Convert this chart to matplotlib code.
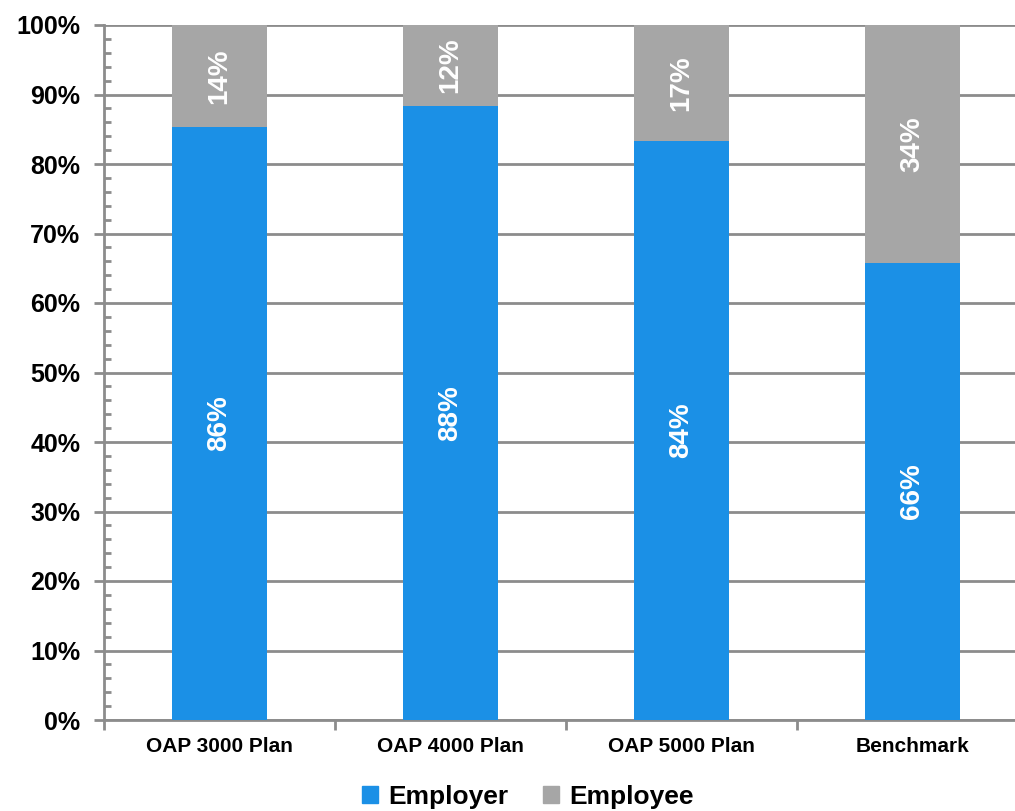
import numpy as np
import matplotlib
matplotlib.use("Agg")
import matplotlib.pyplot as plt
from matplotlib.ticker import FixedLocator, MultipleLocator, PercentFormatter
from matplotlib.patches import Patch

# Data
plans = ['OAP 3000 Plan', 'OAP 4000 Plan', 'OAP 5000 Plan', 'Benchmark']
employer = [85.3, 88.3, 83.3, 65.8]
employee = [14.7, 11.7, 16.7, 34.2]
employer_labels = ['86%', '88%', '84%', '66%']
employee_labels = ['14%', '12%', '17%', '34%']

blue = '#1B90E6'
grey = '#A6A6A6'
line_grey = '#8C8C8C'

plt.rcParams['font.family'] = ['Liberation Sans', 'DejaVu Sans']
plt.rcParams['font.weight'] = 'bold'

fig = plt.figure(figsize=(10.15, 8.11), dpi=100)
W, H = 1015, 811
ax = fig.add_axes([104 / W, 1 - 720 / H, (1028 - 104) / W, (720 - 25) / H])

x = np.arange(len(plans))
bw = 0.415
ax.bar(x, employer, width=bw, color=blue, zorder=3)
ax.bar(x, employee, width=bw, bottom=employer, color=grey, zorder=3)

# rotated white labels in the middle of each segment
for i in range(len(plans)):
    ax.text(x[i], employer[i] / 2, employer_labels[i], rotation=90, color='white',
            ha='center', va='center', fontsize=20, fontweight='bold', zorder=4)
    ax.text(x[i], employer[i] + employee[i] / 2, employee_labels[i], rotation=90,
            color='white', ha='center', va='center', fontsize=20, fontweight='bold', zorder=4)

ax.set_xlim(-0.5, len(plans) - 0.5)
ax.set_ylim(0, 100)

# y axis: grid every 10%, small ticks every 2%
ax.yaxis.set_major_locator(MultipleLocator(10))
ax.yaxis.set_minor_locator(MultipleLocator(2))
ax.yaxis.set_major_formatter(PercentFormatter(decimals=0))
ax.yaxis.grid(True, which='major', color=line_grey, linewidth=2, zorder=0)
ax.tick_params(axis='y', which='major', direction='out', length=7, width=2,
               color=line_grey, labelsize=18, pad=10)
ax.tick_params(axis='y', which='minor', direction='in', length=5, width=2, color=line_grey)

# x axis: labels at category centres, ticks at category boundaries
ax.set_xticks(x)
ax.set_xticklabels(plans)
ax.xaxis.set_minor_locator(FixedLocator(np.arange(-0.5, len(plans), 1.0)))
ax.tick_params(axis='x', which='major', direction='in', length=3, width=2,
               color=line_grey, labelsize=15, pad=12)
ax.tick_params(axis='x', which='minor', direction='out', length=7, width=2, color=line_grey)

for lbl in ax.get_xticklabels() + ax.get_yticklabels():
    lbl.set_fontweight('bold')

for s in ['top', 'right']:
    ax.spines[s].set_visible(False)
for s in ['left', 'bottom']:
    ax.spines[s].set_color(line_grey)
    ax.spines[s].set_linewidth(2)
ax.set_axisbelow(True)

handles = [Patch(color=blue, label='Employer'), Patch(color=grey, label='Employee')]
fig.legend(handles=handles, loc='center', bbox_to_anchor=(528 / W, 1 - 797 / H),
           ncol=2, frameon=False, handlelength=0.6, handleheight=0.6,
           handletextpad=0.4, columnspacing=1.3, prop={'weight': 'bold', 'size': 19})

fig.savefig('out.png', dpi=100)
